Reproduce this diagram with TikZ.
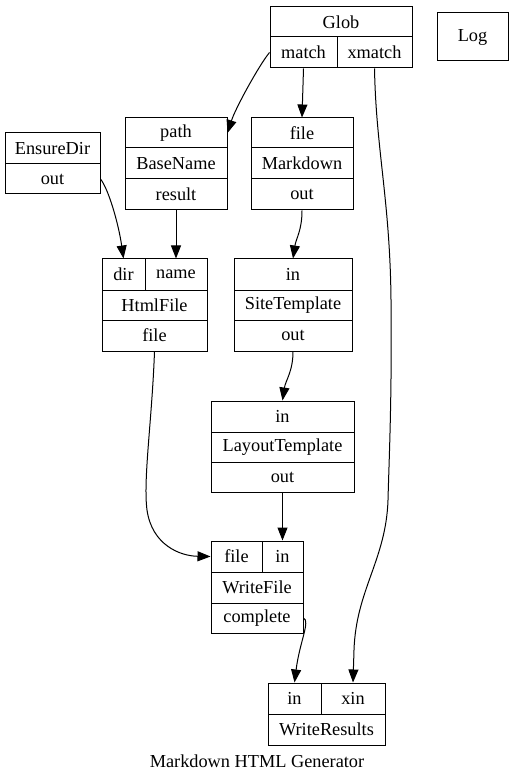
\documentclass[tikz,border=0pt]{standalone}
\usepackage{fontspec}
\setmainfont{Liberation Serif}
\usetikzlibrary{arrows.meta}
\begin{document}
\begin{tikzpicture}[x=1pt,y=-1pt,
  cell/.style={draw, line width=1pt, inner sep=0pt, font=\fontsize{18.3}{20}\selectfont, anchor=center},
  arr/.style={line width=1pt, -{Triangle[length=13pt,width=10pt]}}]
\useasboundingbox (0,0) rectangle (515,783);
% Glob
\node[cell, minimum width=142, minimum height=30] (glob) at (341,22) {Glob};
\node[cell, minimum width=67, minimum height=31] (match) at (303.5,52.5) {match};
\node[cell, minimum width=75, minimum height=31] (xmatch) at (374.5,52.5) {xmatch};
% Log
\node[cell, minimum width=71, minimum height=48] (log) at (472.5,37) {Log};
% BaseName
\node[cell, minimum width=102, minimum height=30] (path) at (176,133) {path};
\node[cell, minimum width=102, minimum height=31] (basename) at (176,163.5) {BaseName};
\node[cell, minimum width=102, minimum height=31] (result) at (176,194.5) {result};
% Markdown
\node[cell, minimum width=102, minimum height=30] (mdfile) at (302,133) {file};
\node[cell, minimum width=102, minimum height=31] (markdown) at (302,163.5) {Markdown};
\node[cell, minimum width=102, minimum height=31] (mdout) at (302,194.5) {out};
% EnsureDir
\node[cell, minimum width=95, minimum height=31] (ensuredir) at (52.5,148.5) {EnsureDir};
\node[cell, minimum width=95, minimum height=30] (edout) at (52.5,179) {out};
% HtmlFile
\node[cell, minimum width=43, minimum height=31] (dir) at (123.5,274.5) {dir};
\node[cell, minimum width=62, minimum height=31] (name) at (176,274.5) {name};
\node[cell, minimum width=105, minimum height=30] (htmlfile) at (154.5,305) {HtmlFile};
\node[cell, minimum width=105, minimum height=31] (hffile) at (154.5,335.5) {file};
% SiteTemplate
\node[cell, minimum width=118, minimum height=31] (stin) at (293,274.5) {in};
\node[cell, minimum width=118, minimum height=30] (sitetemplate) at (293,305) {SiteTemplate};
\node[cell, minimum width=118, minimum height=31] (stout) at (293,335.5) {out};
% LayoutTemplate
\node[cell, minimum width=143, minimum height=31] (ltin) at (282.5,416.5) {in};
\node[cell, minimum width=143, minimum height=30] (layouttemplate) at (282.5,447) {LayoutTemplate};
\node[cell, minimum width=143, minimum height=30] (ltout) at (282.5,477) {out};
% WriteFile
\node[cell, minimum width=51, minimum height=31] (wffile) at (236.5,556.5) {file};
\node[cell, minimum width=41, minimum height=31] (wfin) at (282.5,556.5) {in};
\node[cell, minimum width=92, minimum height=31] (writefile) at (257,587.5) {WriteFile};
\node[cell, minimum width=92, minimum height=30] (complete) at (257,618) {complete};
% WriteResults
\node[cell, minimum width=53, minimum height=31] (wrin) at (294.5,698.5) {in};
\node[cell, minimum width=64, minimum height=31] (xin) at (353,698.5) {xin};
\node[cell, minimum width=117, minimum height=31] (writeresults) at (326.5,729.5) {WriteResults};
% caption
\node[font=\fontsize{18.3}{20}\selectfont, inner sep=0pt] (caption) at (257,761) {Markdown HTML Generator};
% edges
\draw[arr] (match.west) .. controls +(-10,12) and +(8,-25) .. (path.east);
\draw[arr] (match.south) -- (mdfile.north);
\draw[arr] (xmatch.south) .. controls (376,150) and (390,200) .. (391,300)
  .. controls (392,400) and (389,460) .. (388,500)
  .. controls (386,560) and (356,590) .. (354,650) -- (xin.north);
\draw[arr] (edout.east) .. controls +(8,10) and +(-5,-35) .. (dir.north);
\draw[arr] (result.south) -- (name.north);
\draw[arr] (mdout.south) .. controls +(0,20) and +(3,-20) .. (stin.north);
\draw[arr] (hffile.south) .. controls (152,420) and (143,480) .. (147,510)
  .. controls (152,545) and (180,556) .. (wffile.west);
\draw[arr] (stout.south) .. controls +(0,20) and +(3,-20) .. (ltin.north);
\draw[arr] (ltout.south) -- (wfin.north);
\draw[arr] (complete.east) .. controls +(7,3) and +(5,-40) .. (wrin.north);
\end{tikzpicture}
\end{document}
